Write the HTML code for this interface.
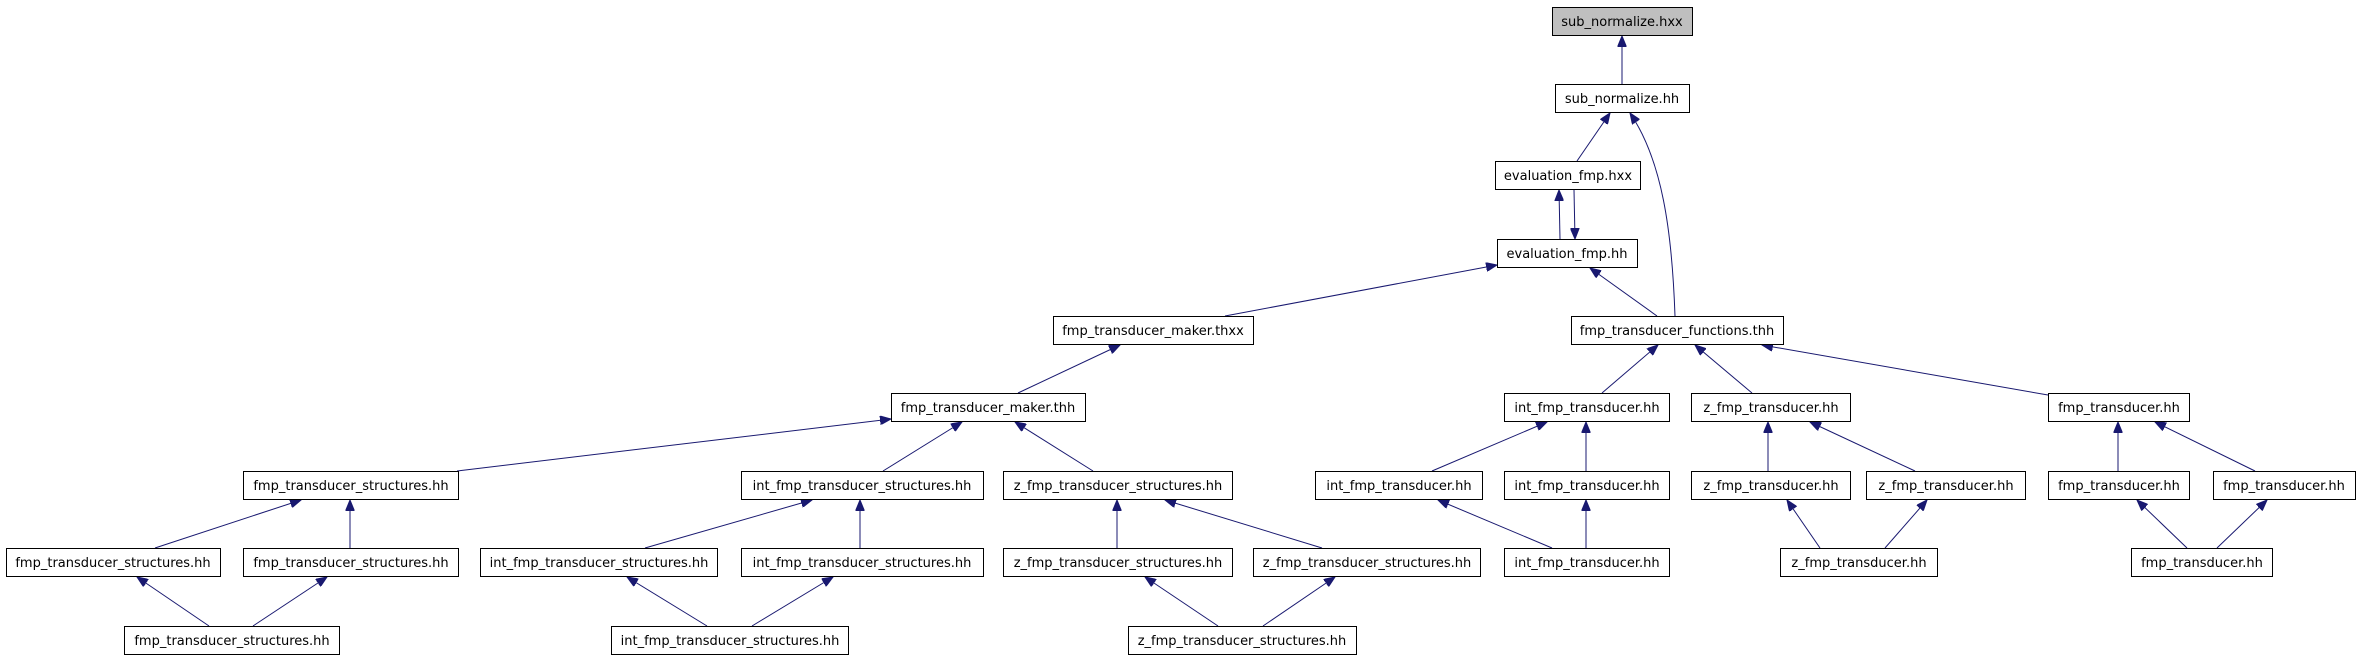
<!DOCTYPE html>
<html><head><meta charset="utf-8"><style>
html,body{margin:0;padding:0;background:#fff;}
svg{display:block;}
text{font-family:"DejaVu Sans","Liberation Sans",sans-serif;font-size:13px;fill:#000;text-anchor:middle;}
rect{fill:#fff;stroke:#000;stroke-width:1;}
.e{fill:none;stroke:#191970;stroke-width:1;}
</style></head><body>
<svg width="2360" height="659" viewBox="0 0 2360 659" xmlns="http://www.w3.org/2000/svg">
<defs><marker id="a" markerUnits="userSpaceOnUse" markerWidth="12" markerHeight="9" refX="11" refY="4.5" orient="auto"><path d="M0,0 L11,4.5 L0,9 z" fill="#191970" stroke="#191970"/></marker></defs>
<g marker-end="url(#a)">
<path class="e" d="M1622,84 L1622,36"/>
<path class="e" d="M1577,161 L1610,113"/>
<path class="e" d="M1675,316 C1672,230 1662,160 1630,113"/>
<path class="e" d="M1560,239 L1559,190"/>
<path class="e" d="M1574,190 L1575,239"/>
<path class="e" d="M1225,316 L1497,265"/>
<path class="e" d="M1657,316 L1590,268"/>
<path class="e" d="M1018,393 L1120,345"/>
<path class="e" d="M457,471 L891,419"/>
<path class="e" d="M883,471 L962,422"/>
<path class="e" d="M1093,471 L1015,422"/>
<path class="e" d="M155,548 L301,500"/>
<path class="e" d="M350,548 L350,500"/>
<path class="e" d="M645,548 L812,500"/>
<path class="e" d="M860,548 L860,500"/>
<path class="e" d="M1117,548 L1117,500"/>
<path class="e" d="M1322,548 L1165,500"/>
<path class="e" d="M209,626 L137,577"/>
<path class="e" d="M253,626 L327,577"/>
<path class="e" d="M707,626 L627,577"/>
<path class="e" d="M752,626 L833,577"/>
<path class="e" d="M1218,626 L1145,577"/>
<path class="e" d="M1263,626 L1335,577"/>
<path class="e" d="M1602,393 L1658,345"/>
<path class="e" d="M1752,393 L1695,345"/>
<path class="e" d="M2048,395 L1762,345"/>
<path class="e" d="M1432,471 L1547,422"/>
<path class="e" d="M1586,471 L1586,422"/>
<path class="e" d="M1552,548 L1438,500"/>
<path class="e" d="M1586,548 L1586,500"/>
<path class="e" d="M1768,471 L1768,422"/>
<path class="e" d="M1915,471 L1810,422"/>
<path class="e" d="M1820,548 L1787,500"/>
<path class="e" d="M1885,548 L1927,500"/>
<path class="e" d="M2118,471 L2118,422"/>
<path class="e" d="M2255,471 L2155,422"/>
<path class="e" d="M2187,548 L2137,500"/>
<path class="e" d="M2217,548 L2267,500"/>
</g>
<rect x="1552.5" y="7.5" width="140" height="28" style="fill:#bfbfbf"/><text x="1622" y="26">sub_normalize.hxx</text>
<rect x="1555.5" y="84.5" width="134" height="28"/><text x="1622" y="103">sub_normalize.hh</text>
<rect x="1495.5" y="161.5" width="145" height="28"/><text x="1568" y="180">evaluation_fmp.hxx</text>
<rect x="1497.5" y="239.5" width="140" height="28"/><text x="1567" y="258">evaluation_fmp.hh</text>
<rect x="1053.5" y="316.5" width="200" height="28"/><text x="1153" y="335">fmp_transducer_maker.thxx</text>
<rect x="1571.5" y="316.5" width="212" height="28"/><text x="1677" y="335">fmp_transducer_functions.thh</text>
<rect x="891.5" y="393.5" width="194" height="28"/><text x="988" y="412">fmp_transducer_maker.thh</text>
<rect x="1504.5" y="393.5" width="165" height="28"/><text x="1587" y="412">int_fmp_transducer.hh</text>
<rect x="1691.5" y="393.5" width="159" height="28"/><text x="1771" y="412">z_fmp_transducer.hh</text>
<rect x="2048.5" y="393.5" width="141" height="28"/><text x="2119" y="412">fmp_transducer.hh</text>
<rect x="243.5" y="471.5" width="215" height="28"/><text x="351" y="490">fmp_transducer_structures.hh</text>
<rect x="741.5" y="471.5" width="242" height="28"/><text x="862" y="490">int_fmp_transducer_structures.hh</text>
<rect x="1003.5" y="471.5" width="229" height="28"/><text x="1118" y="490">z_fmp_transducer_structures.hh</text>
<rect x="1315.5" y="471.5" width="167" height="28"/><text x="1399" y="490">int_fmp_transducer.hh</text>
<rect x="1504.5" y="471.5" width="165" height="28"/><text x="1587" y="490">int_fmp_transducer.hh</text>
<rect x="1691.5" y="471.5" width="159" height="28"/><text x="1771" y="490">z_fmp_transducer.hh</text>
<rect x="1866.5" y="471.5" width="159" height="28"/><text x="1946" y="490">z_fmp_transducer.hh</text>
<rect x="2048.5" y="471.5" width="141" height="28"/><text x="2119" y="490">fmp_transducer.hh</text>
<rect x="2213.5" y="471.5" width="142" height="28"/><text x="2284" y="490">fmp_transducer.hh</text>
<rect x="6.5" y="548.5" width="214" height="28"/><text x="113" y="567">fmp_transducer_structures.hh</text>
<rect x="243.5" y="548.5" width="215" height="28"/><text x="351" y="567">fmp_transducer_structures.hh</text>
<rect x="480.5" y="548.5" width="237" height="28"/><text x="599" y="567">int_fmp_transducer_structures.hh</text>
<rect x="741.5" y="548.5" width="242" height="28"/><text x="862" y="567">int_fmp_transducer_structures.hh</text>
<rect x="1003.5" y="548.5" width="229" height="28"/><text x="1118" y="567">z_fmp_transducer_structures.hh</text>
<rect x="1253.5" y="548.5" width="227" height="28"/><text x="1367" y="567">z_fmp_transducer_structures.hh</text>
<rect x="1504.5" y="548.5" width="165" height="28"/><text x="1587" y="567">int_fmp_transducer.hh</text>
<rect x="1780.5" y="548.5" width="157" height="28"/><text x="1859" y="567">z_fmp_transducer.hh</text>
<rect x="2131.5" y="548.5" width="141" height="28"/><text x="2202" y="567">fmp_transducer.hh</text>
<rect x="124.5" y="626.5" width="215" height="28"/><text x="232" y="645">fmp_transducer_structures.hh</text>
<rect x="611.5" y="626.5" width="237" height="28"/><text x="730" y="645">int_fmp_transducer_structures.hh</text>
<rect x="1128.5" y="626.5" width="228" height="28"/><text x="1242" y="645">z_fmp_transducer_structures.hh</text>
</svg>
</body></html>
